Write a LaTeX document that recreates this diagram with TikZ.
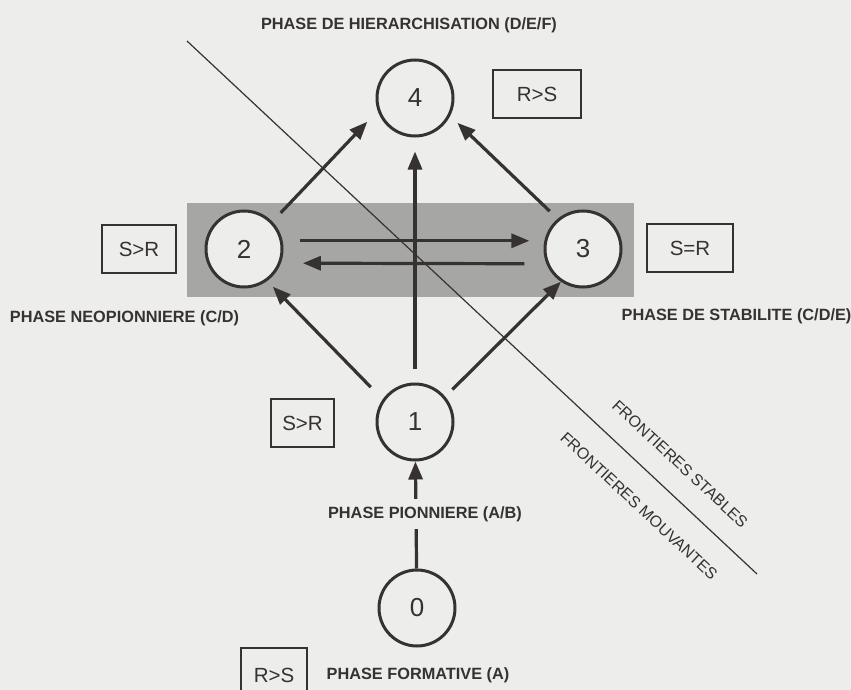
\documentclass[tikz,border=0pt]{standalone}
\usepackage{fontspec}
\setmainfont{Liberation Sans}
\usetikzlibrary{arrows.meta}
\definecolor{bgc}{HTML}{EDEDEB}
\definecolor{ink}{HTML}{363232}
\definecolor{band}{HTML}{A6A6A4}
\tikzset{
  phase/.style={circle, draw=ink, line width=3pt, fill=bgc, minimum size=76pt, inner sep=0pt, text=ink, font=\fontsize{26}{26}\selectfont},
  relbox/.style={draw=ink, line width=1.2pt, text=ink, inner sep=0pt, font=\fontsize{20.5}{20.5}\selectfont},
  lab/.style={text=ink, font=\fontsize{16.3}{16.3}\selectfont\bfseries, inner sep=0pt},
  frontlab/.style={text=ink, font=\fontsize{16}{16}\selectfont, inner sep=0pt, rotate=-43},
  arr/.style={draw=ink, line width=3.2pt, -{Triangle[length=18pt,width=14pt]}},
  thin/.style={draw=ink, line width=1.2pt}
}
\begin{document}
\begin{tikzpicture}[x=1pt,y=-1pt]
\fill[bgc] (0,0) rectangle (851,690);
\useasboundingbox (0,0) rectangle (851,690);
% grey band
\fill[band] (187,203) rectangle (634,297);
% frontier line
\coordinate (fa) at (187,41);
\coordinate (fb) at (757,574);
\draw[thin] (fa) -- (fb);
% circles
\node[phase] (c4) at (415,98) {4};
\node[phase] (c2) at (244,249) {2};
\node[phase] (c3) at (583,249) {3};
\node[phase] (c1) at (415,422) {1};
\node[phase] (c0) at (417,608) {0};
% relation boxes
\node[relbox, minimum width=88pt, minimum height=48pt] (b4) at (537,94) {R>S};
\node[relbox, minimum width=74pt, minimum height=48pt] (b2) at (139,249) {S>R};
\node[relbox, minimum width=86pt, minimum height=48pt] (b3) at (690,248) {S=R};
\node[relbox, minimum width=63pt, minimum height=48pt] (b1) at (302.5,423) {S>R};
\node[relbox, minimum width=66pt, minimum height=54pt] (b0) at (274,675) {R>S};
% arrows
\draw[arr] (c0) -- (c1);
\draw[arr, shorten <=14pt, shorten >=14pt] (c1) -- (c4);
\draw[arr, shorten <=17pt, shorten >=8pt] (c1.145) -- (c2.-54);
\draw[arr, shorten <=10pt] (c1.40) -- (c3.236);
\draw[arr, shorten <=12pt, shorten >=15pt] (c2.44) -- (c4.199);
\draw[arr, shorten <=11pt, shorten >=10pt] (c3.130) -- (c4.-27);
\draw[arr, shorten <=17pt, shorten >=15pt] (c2.12) -- (c3.168);
\draw[arr, shorten <=22pt, shorten >=22pt] (c3.202) -- (c2.-21);
% phase labels
\node[lab] (l4) at (409,25) {PHASE DE HIERARCHISATION (D/E/F)};
\node[lab] (l2) at (124.5,318) {PHASE NEOPIONNIERE (C/D)};
\node[lab] (l3) at (736.5,316) {PHASE DE STABILITE (C/D/E)};
\node[lab, fill=bgc, inner xsep=2pt, inner ysep=7pt] (l1) at (425,514) {PHASE PIONNIERE (A/B)};
\node[lab] (l0) at (418,675) {PHASE FORMATIVE (A)};
% frontier labels
\node[frontlab] (fs) at (680,464) {FRONTIERES STABLES};
\node[frontlab] (fm) at (639,506) {FRONTIERES MOUVANTES};
\end{tikzpicture}
\end{document}
